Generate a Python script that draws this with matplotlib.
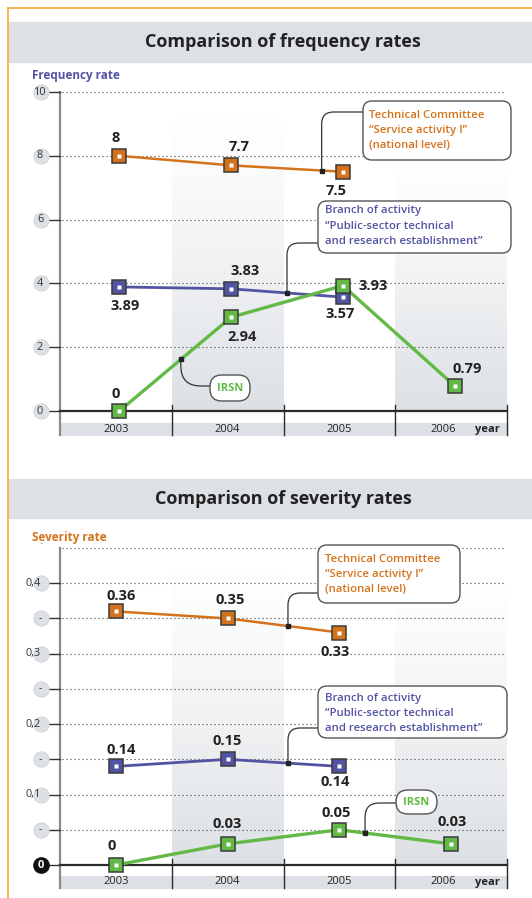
import numpy as np
import matplotlib.pyplot as plt
import matplotlib.transforms as mtrans
from matplotlib.patches import Rectangle, FancyBboxPatch
from matplotlib.lines import Line2D

plt.rcParams['font.family'] = ['Open Sans', 'DejaVu Sans']

# ---- data ----
years = ['2003', '2004', '2005', '2006']
freq_committee = [8, 7.7, 7.5]
freq_branch = [3.89, 3.83, 3.57]
freq_irsn = [0, 2.94, 3.93, 0.79]
sev_committee = [0.36, 0.35, 0.33]
sev_branch = [0.14, 0.15, 0.14]
sev_irsn = [0, 0.03, 0.05, 0.03]
freq_ticks = [0, 2, 4, 6, 8, 10]
freq_ticklabels = ['0', '2', '4', '6', '8', '10']
sev_ticks = [0, 0.05, 0.1, 0.15, 0.2, 0.25, 0.3, 0.35, 0.4]
sev_ticklabels = ['0', '-', '0,1', '-', '0,2', '-', '0,3', '-', '0,4']

ORANGE = '#d4731b'
BLUE = '#5254a3'
GREEN = '#62b946'
BAND = '#dde1e5'
DARK = '#222222'

W, H = 532, 898
fig = plt.figure(figsize=(W / 100, H / 100), dpi=100)
# pixel coordinates, origin top-left
PIX = mtrans.Affine2D().scale(1 / 100, -1 / 100).translate(0, H / 100) + fig.dpi_scale_trans

# frame and title bands
fig.add_artist(Line2D([8, 8], [8, H], color='#f5ab3c', lw=1.2, transform=PIX))
fig.add_artist(Line2D([8, W], [8, 8], color='#f5ab3c', lw=1.2, transform=PIX))
for y0, y1, title in [(22, 62, 'Comparison of frequency rates'),
                      (479, 518, 'Comparison of severity rates')]:
    fig.add_artist(Rectangle((8, y0), W - 8, y1 - y0, color=BAND, transform=PIX, zorder=0))
    fig.text(283, (y0 + y1) / 2, title, transform=PIX, ha='center', va='center',
             fontsize=13, fontweight='bold', color=DARK)

fig.text(32, 75, 'Frequency rate', transform=PIX, ha='left', va='center',
         fontsize=8.5, fontweight='bold', color=BLUE)
fig.text(32, 537, 'Severity rate', transform=PIX, ha='left', va='center',
         fontsize=8.5, fontweight='bold', color=ORANGE)
fig.text(41, 547, 'ˇ', transform=PIX, ha='center', va='center', fontsize=6, color=ORANGE)

COLW = 111.75  # pixels per column


def make_axes(top, bottom, zero_px, ymax):
    ax = fig.add_axes([60 / W, 1 - bottom / H, 447 / W, (bottom - top) / H])
    scale = (zero_px - top) / ymax
    ax.set_ylim(-(bottom - zero_px) / scale, ymax)
    ax.axis('off')
    return ax, scale


def frame(ax, shift, scale, ticks, labels, grid, shade_tops, dark_zero, dec_labels):
    x0, x1 = -0.5 - shift, 3.5 - shift
    ybot, ytop = ax.get_ylim()
    px = 1 / scale
    ytr = ax.get_yaxis_transform()
    # shaded columns: white at the top, grey at the bottom
    for k, top in shade_tops:
        grad = np.linspace(0, 1, 200)[:, None, None] ** 1.2
        c0 = np.array([1.0, 1.0, 1.0])
        c1 = np.array([0.865, 0.88, 0.895])
        img = c0 + (c1 - c0) * grad
        ax.imshow(img, extent=[k - 0.5 - shift, k + 0.5 - shift, 0, top], origin='upper',
                  aspect='auto', zorder=0, interpolation='bilinear')
    ax.set_xlim(x0, x1)
    ax.set_ylim(ybot, ytop)
    # grid
    ax.hlines(grid, x0 + 2 / COLW, x1 - 3 / COLW, colors='#444444',
              linestyles=(0, (1, 2.6)), lw=0.8, zorder=1)
    # axes lines
    ax.plot([x0, x0], [ybot, ytop], color='#8a8a8a', lw=1.6, clip_on=False, zorder=2)
    ax.plot([x0, x1], [0, 0], color='#2a2a2a', lw=1.6, zorder=2, clip_on=False)
    # year band
    ax.add_patch(Rectangle((x0, ybot), x1 - x0, 12 * px, color=BAND, zorder=1, clip_on=False))
    for b in [0.5 - shift, 1.5 - shift, 2.5 - shift, x1]:
        ax.plot([b, b], [6 * px, ybot], color='#2a2a2a', lw=1, zorder=2, clip_on=False)
    for k, yr in enumerate(years):
        xc = k - shift - (0.07 if k == 3 else 0)
        ax.text(xc, ybot + 6 * px, yr, ha='center', va='center', fontsize=8, color=DARK)
    ax.text(x0 + (487 - 60) / COLW, ybot + 6 * px, 'year', ha='center', va='center',
            fontsize=8, fontweight='bold', color=DARK)
    # y ticks with round badges
    for v, lab in zip(ticks, labels):
        ax.plot([-11 / 447, 0], [v, v], color='#333333', lw=1, transform=ytr, clip_on=False, zorder=2)
        if v == 0 and dark_zero:
            ax.plot(-19 / 447, v, 'o', ms=11, color='#111111', transform=ytr, clip_on=False)
            ax.text(-19 / 447, v, '0', transform=ytr, ha='center', va='center',
                    fontsize=8, fontweight='bold', color='white')
            continue
        ax.plot(-19 / 447, v, 'o', ms=11, color=BAND, mec='#c9cdd2', mew=0.5,
                transform=ytr, clip_on=False)
        tx = -27 / 447 if (dec_labels and lab != '-' and v != 0) else -20 / 447
        ax.text(tx, v, lab, transform=ytr, ha='center', va='center', fontsize=7.8, color='#333333')


def series(ax, vals, color, lw, offsets):
    x = np.arange(len(vals))
    ax.plot(x, vals, color=color, lw=lw, zorder=3, solid_capstyle='butt')
    ax.plot(x, vals, 's', ms=9.5, mfc=color, mec='#3a3a3a', mew=1.1, zorder=4, clip_on=False)
    ax.plot(x, vals, 's', ms=3, mfc='white', mec='none', zorder=5, clip_on=False)
    for xi, v, (dx, dy) in zip(x, vals, offsets):
        ax.annotate(f'{v:g}', (xi, v), xytext=(dx, dy), textcoords='offset points',
                    ha='center', va='center', fontsize=10.5, fontweight='bold', color=DARK, zorder=6)


def callout(ax, vals, xd, box, lines, color, anchor, rad=12, pill=False):
    x0, y0, x1, y1 = box
    fig.add_artist(FancyBboxPatch((x0, y0), x1 - x0, y1 - y0, transform=PIX,
                                  boxstyle='round,pad=0,rounding_size=%g' % (12 if pill else 9),
                                  fc='white', ec='#555555', lw=1.0, zorder=7))
    if pill:
        fig.text((x0 + x1) / 2, (y0 + y1) / 2 + 0.5, lines[0], transform=PIX, ha='center',
                 va='center', fontsize=8, fontweight='bold', color=color, zorder=8)
    else:
        tx, ty, dy = lines[0]
        for i, s in enumerate(lines[1:]):
            fig.text(tx, ty + i * dy, s, transform=PIX, ha='left', va='center',
                     fontsize=8.2, fontweight='semibold', color=color, zorder=8)
    yd = np.interp(xd, np.arange(len(vals)), vals)
    ax.annotate('', xy=(xd, yd), xycoords='data', xytext=anchor, textcoords=PIX,
                arrowprops=dict(arrowstyle='-', color='#333333', lw=0.9, shrinkA=0, shrinkB=0,
                                connectionstyle='angle,angleA=0,angleB=90,rad=%g' % rad),
                zorder=6)
    ax.plot(xd, yd, 's', ms=2.2, color='#222222', zorder=6)


# ---------------- frequency chart ----------------
ax1, s1 = make_axes(92, 435, 411, 10)
f_shift = 3.5 / COLW
frame(ax1, f_shift, s1, freq_ticks, freq_ticklabels, [2, 4, 6, 8, 10],
      [(1, 9.2), (3, 7.9)], False, False)
series(ax1, freq_committee, ORANGE, 1.8, [(-3, 13), (6, 13), (-5, -14)])
series(ax1, freq_branch, BLUE, 2.0, [(4, -14), (10, 13), (-2, -12)])
series(ax1, freq_irsn, GREEN, 2.4, [(-3, 12), (8, -14), (22, 0), (9, 12)])
callout(ax1, freq_committee, 1.81, (363, 101, 511, 160),
        [(369, 116, 14.5), 'Technical Committee', '“Service activity I”', '(national level)'],
        ORANGE, (363, 112))
callout(ax1, freq_branch, 1.50, (318, 201, 511, 253),
        [(325, 211, 15.3), 'Branch of activity', '“Public-sector technical',
         'and research establishment”'], BLUE, (318, 243))
callout(ax1, freq_irsn, 0.55, (210, 375, 250, 401), ['IRSN'], GREEN, (210, 386), rad=20, pill=True)

# ---------------- severity chart ----------------
ax2, s2 = make_axes(548, 888, 865, 0.45)
frame(ax2, 0.0, s2, sev_ticks, sev_ticklabels, [0.05 * i for i in range(1, 10)],
      [(1, 0.42), (3, 0.405)], True, True)
series(ax2, sev_committee, ORANGE, 1.8, [(4, 11), (2, 13), (-3, -14)])
series(ax2, sev_branch, BLUE, 2.0, [(4, 11.5), (0, 13), (-3, -11.5)])
series(ax2, sev_irsn, GREEN, 2.4, [(-3, 14), (0, 14), (-2, 12), (1, 16)])
callout(ax2, sev_committee, 1.54, (318, 545, 460, 603),
        [(325, 559, 15), 'Technical Committee', '“Service activity I”', '(national level)'],
        ORANGE, (318, 593))
callout(ax2, sev_branch, 1.54, (318, 686, 507, 738),
        [(325, 699, 14.8), 'Branch of activity', '“Public-sector technical',
         'and research establishment”'], BLUE, (318, 728))
callout(ax2, sev_irsn, 2.23, (396, 790, 437, 814), ['IRSN'], GREEN, (396, 803), rad=14, pill=True)

fig.savefig('out.png', dpi=100, facecolor='white')
